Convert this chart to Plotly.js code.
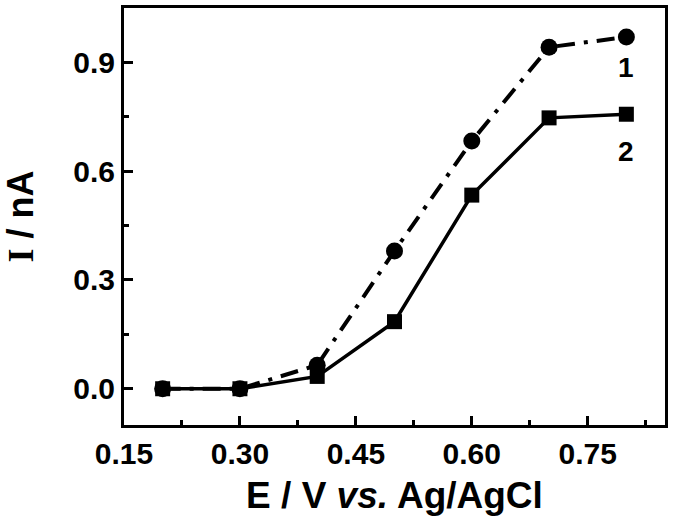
<!DOCTYPE html>
<html>
<head>
<meta charset="utf-8">
<script src="https://cdn.plot.ly/plotly-3.0.1.min.js"></script>
<style>html,body{margin:0;padding:0;background:#fff;}#chart{width:675px;height:521px;}</style>
</head>
<body>
<div id="chart"></div>
<script>
const potentials = [0.2, 0.3, 0.4, 0.5, 0.6, 0.7, 0.8];
const current1 = [0.0, 0.0, 0.065, 0.38, 0.683, 0.942, 0.97];
const current2 = [0.0, 0.0, 0.034, 0.185, 0.534, 0.747, 0.757];
const seriesLabels = ["1", "2"];
const labelY = [0.887, 0.655];

const fnt = {family: "Liberation Sans, Arial, sans-serif", color: "#000", weight: "bold"};

const traces = [
  {x: potentials, y: current1, mode: "lines+markers", type: "scatter",
   line: {color: "#000", width: 4, dash: "18px,9px,4px,9px"},
   marker: {symbol: "circle", size: 17, color: "#000"}},
  {x: potentials, y: current2, mode: "lines+markers", type: "scatter",
   line: {color: "#000", width: 3.5},
   marker: {symbol: "square", size: 15, color: "#000"}}
];

const layout = {
  width: 675, height: 521,
  margin: {l: 124, r: 10, t: 8, b: 96},
  showlegend: false,
  paper_bgcolor: "#fff", plot_bgcolor: "#fff",
  font: fnt,
  xaxis: {
    range: [0.15, 0.85], dtick: 0.15, tick0: 0.15, tickformat: ".2f",
    showgrid: false, zeroline: false,
    showline: true, mirror: true, linecolor: "#000", linewidth: 3,
    ticks: "inside", ticklen: 9, tickwidth: 3, tickcolor: "#000",
    minor: {ticks: "inside", ticklen: 5, tickwidth: 3, dtick: 0.075, tick0: 0.15, tickcolor: "#000", showgrid: false},
    tickfont: Object.assign({}, fnt, {size: 30}),
    title: {text: "E / V <i>vs.</i> Ag/AgCl", font: Object.assign({}, fnt, {size: 37}), standoff: 14}
  },
  yaxis: {
    range: [-0.1, 1.05], dtick: 0.3, tick0: 0, tickformat: ".1f",
    showgrid: false, zeroline: false,
    showline: true, mirror: true, linecolor: "#000", linewidth: 3,
    ticks: "inside", ticklen: 9, tickwidth: 3, tickcolor: "#000",
    minor: {ticks: "inside", ticklen: 5, tickwidth: 3, dtick: 0.15, tick0: 0, tickcolor: "#000", showgrid: false},
    tickfont: Object.assign({}, fnt, {size: 30}),
    title: {text: "<span style=\"font-family:Liberation Serif\">I</span> / nA", font: Object.assign({}, fnt, {size: 36}), standoff: 32}
  },
  annotations: seriesLabels.map((t, i) => ({
    x: potentials[potentials.length - 1], y: labelY[i], xref: "x", yref: "y",
    text: t, showarrow: false, font: Object.assign({}, fnt, {size: 28})
  }))
};

Plotly.newPlot("chart", traces, layout, {displayModeBar: false, staticPlot: true});
</script>
</body>
</html>
